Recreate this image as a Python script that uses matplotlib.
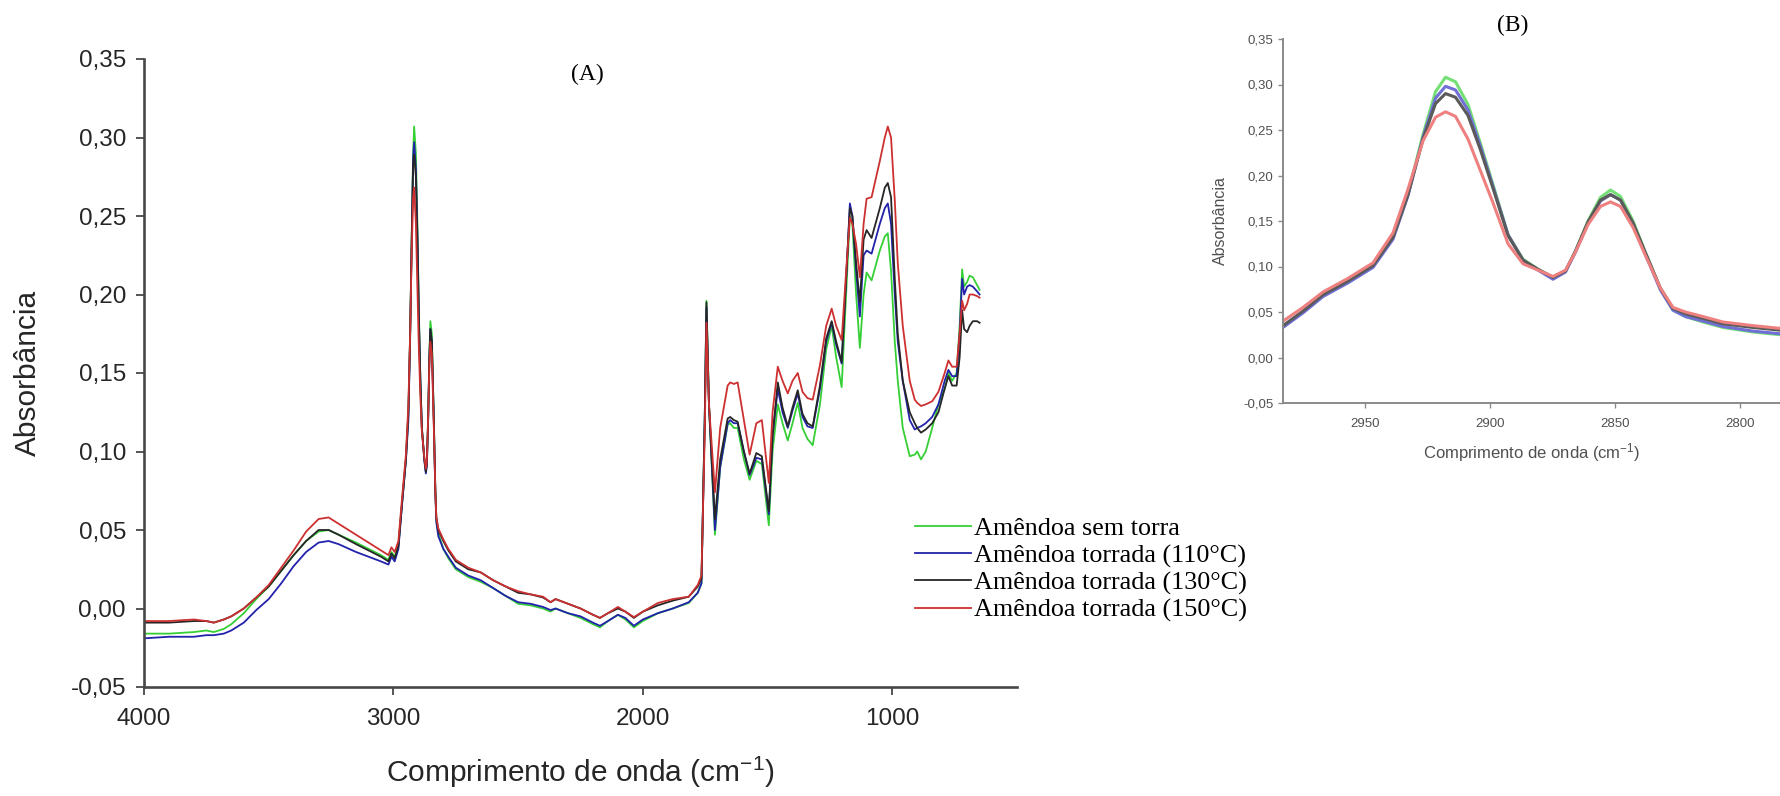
import matplotlib
matplotlib.use("Agg")
import matplotlib.pyplot as plt

plt.rcParams['font.family'] = ['Liberation Sans', 'DejaVu Sans']
plt.rcParams['mathtext.fontset'] = 'custom'
plt.rcParams['mathtext.rm'] = 'Liberation Sans'
plt.rcParams['mathtext.it'] = 'Liberation Sans:italic'

# espectro completo (A): numero de onda em cm-1 e absorbancia de cada amostra
wn = [4000, 3900, 3800, 3750, 3720, 3680, 3650, 3600, 3550, 3500, 3450, 3400,
      3350, 3300, 3260, 3220, 3150, 3100, 3050, 3020, 3008, 2995, 2980, 2965,
      2950, 2940, 2933, 2927, 2921, 2917, 2910, 2904, 2898, 2892, 2886, 2876,
      2870, 2866, 2861, 2856, 2852, 2846, 2838, 2832, 2828, 2820, 2800, 2780,
      2750, 2700, 2650, 2600, 2550, 2500, 2450, 2400, 2370, 2350, 2300, 2250,
      2200, 2172, 2140, 2100, 2070, 2036, 2000, 1940, 1880, 1816, 1780, 1765,
      1752, 1745, 1735, 1711, 1690, 1660, 1650, 1635, 1620, 1595, 1572, 1545,
      1523, 1495, 1480, 1459, 1440, 1419, 1400, 1379, 1360, 1340, 1319, 1290,
      1265, 1243, 1225, 1203, 1185, 1170, 1160, 1145, 1130, 1115, 1103, 1083,
      1050, 1030, 1018, 1005, 990, 978, 958, 930, 910, 900, 885, 866, 840, 815,
      790, 775, 760, 742, 730, 720, 712, 700, 690, 677, 660, 650]

sem_torra = [-0.016, -0.016, -0.015, -0.014, -0.015, -0.013, -0.010, -0.003, 0.006, 0.014, 0.024, 0.034,
             0.043, 0.049, 0.050, 0.047, 0.042, 0.038, 0.034, 0.031, 0.036, 0.033, 0.040, 0.068,
             0.095, 0.125, 0.175, 0.235, 0.290, 0.307, 0.290, 0.245, 0.190, 0.145, 0.115, 0.095,
             0.088, 0.093, 0.120, 0.160, 0.183, 0.175, 0.120, 0.075, 0.056, 0.048, 0.038, 0.032,
             0.025, 0.020, 0.017, 0.013, 0.008, 0.003, 0.002, 0.000, -0.002, 0.000, -0.003, -0.006,
             -0.010, -0.012, -0.008, -0.004, -0.007, -0.012, -0.008, -0.003, 0.000, 0.0035, 0.010, 0.016,
             0.120, 0.196, 0.130, 0.047, 0.090, 0.117, 0.118, 0.115, 0.115, 0.095, 0.082, 0.094,
             0.092, 0.053, 0.100, 0.130, 0.118, 0.107, 0.118, 0.131, 0.115, 0.108, 0.104, 0.130,
             0.165, 0.180, 0.160, 0.141, 0.200, 0.250, 0.245, 0.200, 0.166, 0.200, 0.214, 0.209,
             0.228, 0.237, 0.239, 0.215, 0.170, 0.145, 0.115, 0.097, 0.098, 0.100, 0.095, 0.100, 0.115, 0.130,
             0.140, 0.150, 0.145, 0.150, 0.180, 0.216, 0.205, 0.208, 0.212, 0.211, 0.206, 0.203]

torrada_110 = [-0.019, -0.018, -0.018, -0.017, -0.017, -0.016, -0.014, -0.009, -0.001, 0.006, 0.016, 0.027,
               0.036, 0.042, 0.043, 0.041, 0.036, 0.033, 0.030, 0.028, 0.033, 0.030, 0.038, 0.067,
               0.094, 0.120, 0.172, 0.232, 0.287, 0.297, 0.280, 0.240, 0.185, 0.145, 0.115, 0.094,
               0.086, 0.091, 0.118, 0.158, 0.178, 0.170, 0.118, 0.074, 0.055, 0.046, 0.038, 0.033,
               0.026, 0.021, 0.018, 0.013, 0.008, 0.004, 0.003, 0.001, -0.001, 0.000, -0.003, -0.005,
               -0.009, -0.011, -0.008, -0.004, -0.006, -0.011, -0.007, -0.003, 0.000, 0.004, 0.010, 0.016,
               0.120, 0.192, 0.130, 0.050, 0.090, 0.118, 0.120, 0.118, 0.118, 0.100, 0.085, 0.096,
               0.095, 0.060, 0.110, 0.140, 0.125, 0.115, 0.126, 0.137, 0.122, 0.116, 0.115, 0.140,
               0.170, 0.182, 0.168, 0.156, 0.210, 0.258, 0.250, 0.215, 0.186, 0.225, 0.228, 0.226,
               0.245, 0.255, 0.258, 0.245, 0.200, 0.170, 0.145, 0.120, 0.114, 0.115, 0.116, 0.118, 0.122, 0.130,
               0.145, 0.152, 0.148, 0.148, 0.175, 0.210, 0.200, 0.205, 0.206, 0.205, 0.202, 0.200]

torrada_130 = [-0.009, -0.009, -0.008, -0.008, -0.009, -0.007, -0.005, 0.000, 0.007, 0.014, 0.024, 0.034,
               0.043, 0.050, 0.050, 0.047, 0.041, 0.037, 0.033, 0.030, 0.035, 0.032, 0.040, 0.068,
               0.095, 0.125, 0.175, 0.232, 0.283, 0.289, 0.275, 0.235, 0.185, 0.145, 0.115, 0.095,
               0.087, 0.092, 0.120, 0.160, 0.178, 0.170, 0.120, 0.076, 0.058, 0.050, 0.043, 0.037,
               0.030, 0.025, 0.023, 0.018, 0.014, 0.010, 0.009, 0.007, 0.004, 0.006, 0.003, 0.000,
               -0.004, -0.006, -0.003, 0.000, -0.002, -0.006, -0.002, 0.002, 0.005, 0.0075, 0.014, 0.019,
               0.120, 0.195, 0.130, 0.057, 0.095, 0.121, 0.122, 0.120, 0.119, 0.100, 0.086, 0.099,
               0.097, 0.062, 0.110, 0.144, 0.128, 0.116, 0.128, 0.139, 0.124, 0.118, 0.116, 0.142,
               0.172, 0.183, 0.170, 0.157, 0.210, 0.255, 0.250, 0.220, 0.195, 0.235, 0.241, 0.236,
               0.255, 0.268, 0.271, 0.262, 0.210, 0.175, 0.145, 0.125, 0.118, 0.115, 0.112, 0.114, 0.118, 0.125,
               0.140, 0.148, 0.142, 0.142, 0.160, 0.190, 0.178, 0.176, 0.180, 0.183, 0.183, 0.182]

torrada_150 = [-0.008, -0.008, -0.007, -0.008, -0.009, -0.007, -0.005, 0.000, 0.007, 0.015, 0.026, 0.037,
               0.049, 0.057, 0.058, 0.054, 0.047, 0.042, 0.037, 0.034, 0.039, 0.036, 0.043, 0.071,
               0.098, 0.130, 0.175, 0.225, 0.262, 0.268, 0.245, 0.205, 0.165, 0.135, 0.113, 0.096,
               0.089, 0.094, 0.120, 0.155, 0.170, 0.162, 0.115, 0.075, 0.058, 0.051, 0.044, 0.038,
               0.031, 0.026, 0.023, 0.018, 0.014, 0.011, 0.009, 0.0075, 0.004, 0.006, 0.003, 0.000,
               -0.004, -0.006, -0.003, 0.001, -0.002, -0.0055, -0.002, 0.0035, 0.006, 0.0075, 0.015, 0.021,
               0.110, 0.182, 0.130, 0.074, 0.115, 0.142, 0.144, 0.143, 0.144, 0.120, 0.098, 0.118,
               0.120, 0.080, 0.125, 0.154, 0.145, 0.137, 0.145, 0.150, 0.138, 0.134, 0.133, 0.155,
               0.180, 0.191, 0.180, 0.171, 0.215, 0.249, 0.245, 0.232, 0.211, 0.245, 0.261, 0.262,
               0.285, 0.300, 0.307, 0.300, 0.260, 0.220, 0.180, 0.145, 0.133, 0.131, 0.129, 0.130, 0.132, 0.138,
               0.150, 0.158, 0.154, 0.154, 0.175, 0.196, 0.190, 0.194, 0.200, 0.200, 0.199, 0.198]

# detalhe (B): regiao dos estiramentos C-H
wn_b = [2983, 2975, 2967, 2957, 2947, 2939, 2933, 2927, 2922, 2918, 2914, 2909,
        2904, 2899, 2893, 2887, 2881, 2875, 2870, 2866, 2861, 2856, 2852, 2848,
        2843, 2838, 2832, 2827, 2822, 2815, 2807, 2795, 2784, 2770, 2750]
sem_torra_b = [0.034, 0.050, 0.068, 0.083, 0.100, 0.132, 0.180, 0.245, 0.292, 0.308, 0.303, 0.278,
               0.235, 0.190, 0.135, 0.108, 0.097, 0.088, 0.095, 0.117, 0.150, 0.176, 0.184, 0.177,
               0.150, 0.115, 0.075, 0.052, 0.045, 0.039, 0.033, 0.028, 0.025, 0.022, 0.019]
torrada_110_b = [0.033, 0.049, 0.067, 0.082, 0.099, 0.130, 0.178, 0.242, 0.285, 0.298, 0.294, 0.272,
                 0.232, 0.188, 0.135, 0.107, 0.096, 0.086, 0.094, 0.116, 0.148, 0.172, 0.179, 0.173,
                 0.147, 0.113, 0.074, 0.052, 0.045, 0.040, 0.034, 0.029, 0.026, 0.023, 0.020]
torrada_130_b = [0.035, 0.051, 0.069, 0.084, 0.101, 0.132, 0.179, 0.240, 0.279, 0.290, 0.286, 0.266,
                 0.228, 0.186, 0.134, 0.107, 0.097, 0.088, 0.095, 0.117, 0.149, 0.173, 0.179, 0.173,
                 0.148, 0.115, 0.076, 0.054, 0.048, 0.043, 0.037, 0.033, 0.030, 0.027, 0.024]
torrada_150_b = [0.040, 0.055, 0.072, 0.087, 0.104, 0.137, 0.185, 0.238, 0.264, 0.270, 0.265, 0.240,
                 0.205, 0.170, 0.125, 0.103, 0.096, 0.089, 0.096, 0.116, 0.146, 0.166, 0.171, 0.166,
                 0.143, 0.112, 0.076, 0.055, 0.050, 0.045, 0.039, 0.035, 0.032, 0.029, 0.026]

labels = ['Amêndoa sem torra', 'Amêndoa torrada (110°C)',
          'Amêndoa torrada (130°C)', 'Amêndoa torrada (150°C)']
y_ticks = [-0.05, 0.0, 0.05, 0.10, 0.15, 0.20, 0.25, 0.30, 0.35]
y_ticklabels = ['-0,05', '0,00', '0,05', '0,10', '0,15', '0,20', '0,25', '0,30', '0,35']
x_ticks_a = [4000, 3000, 2000, 1000]
x_ticks_b = [2950, 2900, 2850, 2800]

cores_a = ['#35cf35', '#2222aa', '#262626', '#cc3030']
cores_b = ['#74df74', '#6f6fd6', '#5a5a5a', '#ee8080']

W, H = 1781, 796
fig = plt.figure(figsize=(W / 100, H / 100), dpi=100)

# painel A
axA = fig.add_axes([144 / W, (H - 687) / H, 873 / W, 628 / H])
for y, c, lab in zip([sem_torra, torrada_110, torrada_130, torrada_150], cores_a, labels):
    axA.plot(wn, y, color=c, lw=1.3, label=lab)
axA.set_xlim(4000, 500)
axA.set_ylim(-0.05, 0.35)
axA.set_xticks(x_ticks_a)
axA.set_xticklabels([str(t) for t in x_ticks_a])
axA.set_yticks(y_ticks)
axA.set_yticklabels(y_ticklabels)
for s in ['top', 'right']:
    axA.spines[s].set_visible(False)
for s in ['left', 'bottom']:
    axA.spines[s].set_color('#484848')
    axA.spines[s].set_linewidth(1.9)
axA.tick_params(direction='out', length=6, width=1.3, color='#484848',
                labelsize=17.5, labelcolor='#262626')
axA.tick_params(axis='x', pad=9)
axA.tick_params(axis='y', pad=7)
axA.set_ylabel('Absorbância', fontsize=21.5, color='#262626')
axA.yaxis.set_label_coords(-0.117, 0.5)
axA.set_xlabel('Comprimento de onda (cm$^{-1}$)', fontsize=21.5, color='#262626')
axA.xaxis.set_label_coords(0.5, -0.108)
fig.text(587 / W, (H - 74) / H, '(A)', family='Liberation Serif', fontsize=17,
         ha='center', va='center')

axA.legend(loc='upper left', bbox_to_anchor=(915 / W, (H - 517) / H),
           bbox_transform=fig.transFigure, frameon=False,
           prop={'family': 'Liberation Serif', 'size': 18.8},
           handlelength=2.15, handletextpad=0.1, labelspacing=0.14,
           borderpad=0, borderaxespad=0)

# painel B
axB = fig.add_axes([1283 / W, (H - 403) / H, 582.5 / W, 364 / H])
for y, c in zip([sem_torra_b, torrada_110_b, torrada_130_b, torrada_150_b], cores_b):
    axB.plot(wn_b, y, color=c, lw=2.2)
axB.set_xlim(2983, 2750)
axB.set_ylim(-0.05, 0.35)
axB.set_xticks(x_ticks_b)
axB.set_xticklabels([str(t) for t in x_ticks_b])
axB.set_yticks(y_ticks)
axB.set_yticklabels(y_ticklabels)
for s in ['top', 'right']:
    axB.spines[s].set_visible(False)
for s in ['left', 'bottom']:
    axB.spines[s].set_color('#8a8a8a')
    axB.spines[s].set_linewidth(1.4)
axB.tick_params(direction='out', length=3.5, width=1, color='#8a8a8a',
                labelsize=9.5, labelcolor='#505050')
axB.tick_params(axis='x', pad=7)
axB.set_ylabel('Absorbância', fontsize=11.5, color='#505050')
axB.yaxis.set_label_coords(-0.095, 0.5)
axB.set_xlabel('Comprimento de onda (cm$^{-1}$)', fontsize=12, color='#505050')
axB.xaxis.set_label_coords((1532 - 1283) / 582.5, -0.105)
fig.text(1513 / W, (H - 25) / H, '(B)', family='Liberation Serif', fontsize=17,
         ha='center', va='center')

fig.savefig('out.png', dpi=100)
